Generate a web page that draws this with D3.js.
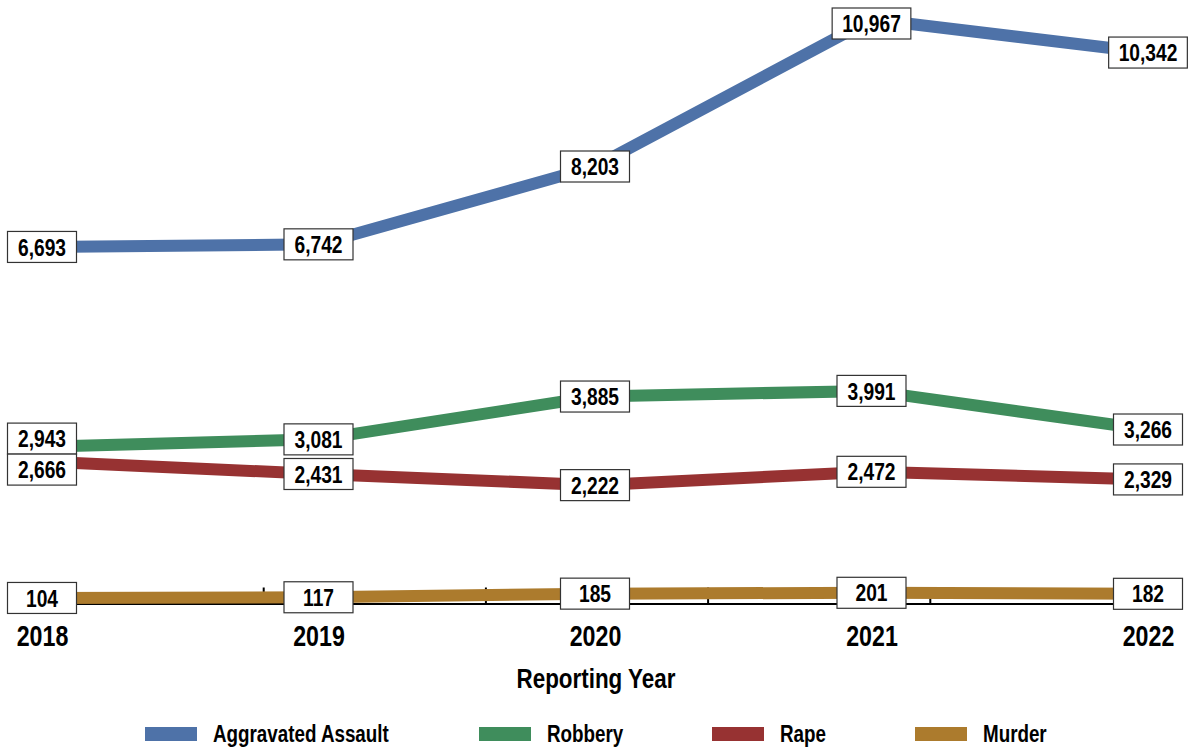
<!DOCTYPE html>
<html>
<head>
<meta charset="utf-8">
<title>Reported crimes by year</title>
<script src="https://d3js.org/d3.v7.min.js"></script>
<style>
  body { margin: 0; background: #fff; }
  svg text { font-family: 'Liberation Sans', Arial, sans-serif; font-weight: bold; fill: #000; }
</style>
</head>
<body>
<div id="chart"></div>
<script>
// data
var years = [2018, 2019, 2020, 2021, 2022];
var seriesNames = ["Aggravated Assault", "Robbery", "Rape", "Murder"];
var assault = [6693, 6742, 8203, 10967, 10342];
var robbery = [2943, 3081, 3885, 3991, 3266];
var rape = [2666, 2431, 2222, 2472, 2329];
var murder = [104, 117, 185, 201, 182];
var colors = ["#4e72a8", "#3f8d5c", "#973232", "#ac7b2d"];

// the original uses a condensed face, so squeeze the text horizontally
var squeeze = 0.8;

var W = 1188, H = 749;
var svg = d3.select("#chart").append("svg")
    .attr("width", W)
    .attr("height", H);

var x = d3.scalePoint().domain(years).range([42, 1148]);
var y = d3.scaleLinear().domain([0, 11000]).range([603.5, 17.5]);

var series = [assault, robbery, rape, murder].map(function(vals, i) {
  return { name: seriesNames[i], color: colors[i], values: vals };
});

// baseline with the odd little ticks
var tickScale = d3.scaleLinear().domain([0, 5]).range([41, 1152]);
var tickAxis = svg.append("g")
    .attr("transform", "translate(0," + y(0) + ")")
    .call(d3.axisTop(tickScale).tickValues([1, 2, 3, 4]).tickSize(16).tickSizeOuter(0).tickFormat(""));
tickAxis.select(".domain").attr("stroke", "#000").attr("stroke-width", 2);
tickAxis.selectAll(".tick line").attr("stroke", "#000").attr("stroke-width", 2);

// lines
var line = d3.line()
    .x(function(d, i) { return x(years[i]); })
    .y(function(d) { return y(d); });

svg.append("g").selectAll("path")
  .data(series)
  .enter()
  .append("path")
    .attr("d", function(d) { return line(d.values); })
    .attr("fill", "none")
    .attr("stroke", function(d) { return d.color; })
    .attr("stroke-width", 12);

// value labels, pushed apart when two boxes in one column collide
var boxH = 31;
var labels = [];
series.forEach(function(s) {
  s.values.forEach(function(v, i) {
    labels.push({ v: v, col: i, cx: x(years[i]), cy: Math.max(y(v), 8 + boxH / 2) });
  });
});
years.forEach(function(yr, i) {
  var col = labels.filter(function(l) { return l.col === i; }).sort(function(a, b) { return a.cy - b.cy; });
  for (var k = 1; k < col.length; k++) {
    var a = col[k - 1], b = col[k];
    if (b.cy - a.cy < boxH) {
      var mid = (a.cy + b.cy) / 2;
      a.cy = mid - boxH / 2;
      b.cy = mid + boxH / 2;
    }
  }
});

var fmt = d3.format(",");
var lab = svg.append("g").selectAll("g")
  .data(labels)
  .enter()
  .append("g")
    .attr("transform", function(d) { return "translate(" + d.cx + "," + d.cy + ")"; });

lab.append("text")
    .attr("text-anchor", "middle")
    .attr("dy", "0.36em")
    .attr("transform", "scale(" + squeeze + ",1)")
    .style("font-size", "24px")
    .text(function(d) { return fmt(d.v); });

lab.insert("rect", "text")
    .each(function(d) {
      var tw = this.parentNode.querySelector("text").getComputedTextLength() * squeeze;
      var bw = Math.max(69, tw + 20);
      d3.select(this)
        .attr("x", -bw / 2)
        .attr("y", -boxH / 2)
        .attr("width", bw)
        .attr("height", boxH);
    })
    .attr("fill", "#fff")
    .attr("stroke", "#333")
    .attr("stroke-width", 1.2);

// year labels
var xAxis = svg.append("g")
    .attr("transform", "translate(0,646)")
    .call(d3.axisBottom(x).tickSize(0).tickPadding(0));
xAxis.select(".domain").remove();
xAxis.selectAll("text")
    .attr("y", 0)
    .attr("dy", 0)
    .attr("transform", "scale(" + squeeze + ",1)")
    .style("font-size", "29px")
    .attr("fill", "#000");

// axis title
svg.append("text")
    .attr("transform", "translate(596,688) scale(" + squeeze + ",1)")
    .attr("text-anchor", "middle")
    .style("font-size", "28px")
    .text("Reporting Year");

// legend
var legendX = [145, 479, 712, 915];
var leg = svg.append("g").selectAll("g")
  .data(series)
  .enter()
  .append("g")
    .attr("transform", function(d, i) { return "translate(" + legendX[i] + ",734)"; });
leg.append("rect")
    .attr("x", 0)
    .attr("y", -7)
    .attr("width", 52)
    .attr("height", 14)
    .attr("fill", function(d) { return d.color; });
leg.append("text")
    .attr("transform", "translate(68,0) scale(" + squeeze + ",1)")
    .attr("dy", "0.36em")
    .style("font-size", "23.5px")
    .text(function(d) { return d.name; });
</script>
</body>
</html>
